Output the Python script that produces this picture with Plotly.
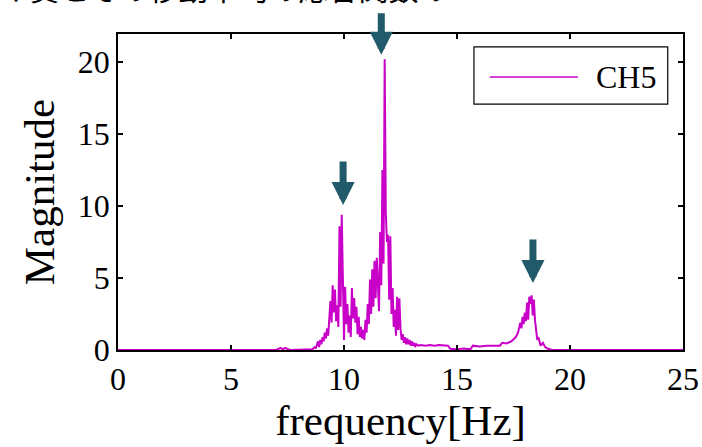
import plotly.graph_objects as go

# ---- data ----
freq = [0.0, 7.0, 7.2, 7.3, 7.4, 7.6, 8.6, 8.65, 8.7, 8.75, 8.8, 8.85, 8.9, 8.95,
        9.0, 9.05, 9.1, 9.15, 9.2, 9.25, 9.3, 9.35, 9.4, 9.45, 9.5, 9.55, 9.6, 9.65,
        9.7, 9.75, 9.8, 9.85, 9.9, 9.95, 10.0, 10.05, 10.1, 10.15, 10.2, 10.25, 10.3,
        10.35, 10.4, 10.45, 10.5, 10.55, 10.6, 10.65, 10.7, 10.75, 10.8, 10.85, 10.9,
        10.95, 11.0, 11.05, 11.1, 11.15, 11.2, 11.25, 11.3, 11.35, 11.4, 11.45, 11.5,
        11.55, 11.6, 11.65, 11.7, 11.75, 11.8, 11.85, 11.9, 11.95, 12.0, 12.05, 12.1,
        12.15, 12.2, 12.25, 12.3, 12.35, 12.4, 12.45, 12.5, 12.55, 12.6, 12.65, 12.7,
        12.75, 12.8, 12.85, 12.9, 12.95, 13.0, 13.05, 13.1, 13.15, 13.2, 13.3, 13.4,
        13.6, 13.8, 14.0, 14.2, 14.4, 14.6, 14.7, 15.0, 15.3, 15.6, 15.7, 16.0, 16.3,
        16.6, 16.9, 17.0, 17.2, 17.4, 17.6, 17.7, 17.8, 17.85, 17.9, 17.95, 18.0,
        18.05, 18.1, 18.15, 18.2, 18.25, 18.3, 18.35, 18.4, 18.45, 18.5, 18.55, 18.6,
        18.7, 18.8, 18.9, 19.0, 19.2, 25.0]
mag = [0.0, 0.0, 0.15, 0.05, 0.15, 0.0, 0.05, 0.1, 0.2, 0.1, 0.3, 0.6, 0.2, 0.7,
       0.4, 0.9, 0.6, 1.2, 0.8, 1.5, 1.0, 2.2, 3.4, 1.9, 4.5, 2.6, 4.2, 2.0,
       3.1, 1.6, 8.6, 3.0, 9.4, 5.0, 0.7, 4.4, 1.8, 3.2, 1.2, 2.4, 0.9,
       4.3, 2.2, 3.6, 1.9, 3.0, 1.1, 2.3, 0.9, 1.6, 0.8, 1.4, 0.7,
       2.1, 1.2, 3.2, 1.8, 4.9, 2.5, 5.6, 3.0, 6.2, 3.6, 6.4, 4.0,
       2.7, 8.2, 4.5, 12.5, 6.0, 20.2, 9.5, 7.5, 8.0, 3.5, 7.9, 2.5,
       4.3, 1.6, 2.8, 1.0, 3.7, 1.4, 3.6, 1.5, 0.7, 1.1, 0.5, 0.9,
       0.4, 0.8, 0.4, 0.7, 0.3, 0.6, 0.3, 0.5, 0.2, 0.4, 0.3, 0.35,
       0.3, 0.35, 0.3, 0.35, 0.3, 0.3, 0.08, 0.05, 0.1, 0.05, 0.3, 0.25, 0.3,
       0.3, 0.3, 0.5, 0.45, 0.6, 0.9, 1.2, 1.9, 1.5, 2.3, 1.8, 2.6,
       2.0, 3.3, 2.1, 3.7, 3.2, 3.8, 2.4, 3.5, 2.1, 1.4, 0.7, 0.9,
       0.3, 0.5, 0.2, 0.1, 0.0, 0.0]
series_name = "CH5"
x_ticks = [0, 5, 10, 15, 20, 25]
y_ticks = [0, 5, 10, 15, 20]
# arrow annotations: (frequency, magnitude at arrow tip)
arrow_freq = [11.65, 9.96, 18.36]
arrow_mag = [20.5, 10.07, 4.65]
arrow_len = [-43, -45, -45]

LINE = "#c800c8"
ARROW = "#215a6b"
FONT = "Liberation Serif"

fig = go.Figure()
fig.add_trace(go.Scatter(x=freq, y=mag, mode="lines", name=series_name,
                         line=dict(color=LINE, width=2), showlegend=False))

axis_common = dict(showline=True, linecolor="black", linewidth=1.5, mirror="ticks",
                   ticks="inside", ticklen=5, tickwidth=1.5, tickcolor="black",
                   showgrid=False, zeroline=False, automargin=False,
                   tickfont=dict(family=FONT, size=32, color="black"))

fig.update_xaxes(range=[0, 25], tickvals=x_ticks, **axis_common,
                 title=dict(text="frequency[Hz]", font=dict(family=FONT, size=43, color="black"),
                            standoff=4))
fig.update_yaxes(range=[0, 21.95], tickvals=y_ticks, **axis_common,
                 title=dict(text="Magnitude", font=dict(family=FONT, size=43, color="black"),
                            standoff=10))

annotations = []
for fx, fy, L in zip(arrow_freq, arrow_mag, arrow_len):
    annotations.append(dict(x=fx, y=fy, xref="x", yref="y", text="", showarrow=True,
                            ax=0, ay=L, arrowhead=2, arrowwidth=7, arrowsize=0.66,
                            arrowcolor=ARROW, standoff=0))

# legend (drawn)
annotations.append(dict(x=0.955, y=0.864, xref="paper", yref="paper", text=series_name,
                        showarrow=False, font=dict(family=FONT, size=32, color="black"),
                        xanchor="right", yanchor="middle"))
# partially cut-off Japanese title at top
annotations.append(dict(x=0, y=1 + 23 / 316, xref="paper", yref="paper",
                        xanchor="left", yanchor="bottom", xshift=-150,
                        text="ハイ賞とその移動平均の応答関数の", showarrow=False,
                        font=dict(family="Noto Sans CJK JP", size=30, color="black")))

shapes = [
    dict(type="rect", xref="paper", yref="paper", x0=0.630, x1=0.973, y0=0.778, y1=0.959,
         line=dict(color="black", width=1.2), fillcolor="white", layer="above"),
    dict(type="line", xref="paper", yref="paper", x0=0.658, x1=0.814, y0=0.864, y1=0.864,
         line=dict(color=LINE, width=1.6), layer="above"),
]

fig.update_layout(width=702, height=447, margin=dict(l=118, r=19, t=34, b=97),
                  plot_bgcolor="white", paper_bgcolor="white",
                  annotations=annotations, shapes=shapes, showlegend=False)

fig.write_html("out.html", config={"displayModeBar": False},
               post_script="document.body.style.margin='0';document.body.style.overflow='hidden';")
